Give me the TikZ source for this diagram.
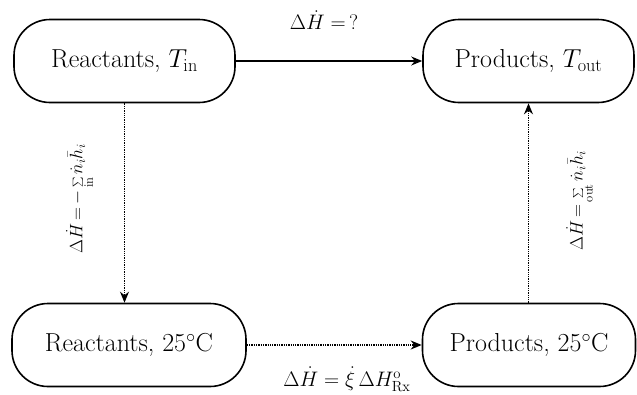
\RequirePackage{fix-cm}
\documentclass[tikz,border=0pt]{standalone}
\usetikzlibrary{arrows.meta}
\newcommand{\tightmath}{\thickmuskip=3mu\relax\medmuskip=1mu\relax}
\begin{document}
\begin{tikzpicture}[x=1pt,y=-1pt,
  stage/.style={draw,line width=1.6pt,rounded corners=36pt,minimum height=83pt,inner sep=0pt,font=\fontsize{26}{30}\selectfont},
  solidarr/.style={line width=1.3pt,-{Stealth[length=11pt,width=9pt]}},
  dotarr/.style={line width=1.3pt,densely dotted,-{Stealth[length=11pt,width=9pt]}},
  lbl/.style={font=\fontsize{21}{25}\selectfont},
  vlbl/.style={font=\fontsize{18}{21}\selectfont,rotate=90}]
\useasboundingbox (0,0) rectangle (637,394);
\node[stage,minimum width=221pt] (rin) at (124.5,61) {Reactants, $T_{\rm in}$};
\node[stage,minimum width=211pt] (pout) at (528.5,61) {Products, $T_{\rm out}$};
\node[stage,minimum width=234pt] (r25) at (129,345) {Reactants, 25$^\circ$C};
\node[stage,minimum width=213pt] (p25) at (529,345) {Products, 25$^\circ$C};
\draw[solidarr] (rin) -- (pout);
\draw[dotarr] (rin.south) -- (r25.north -| rin.south);
\draw[dotarr] (p25.north -| pout.south) -- (pout.south);
\draw[dotarr] (r25) -- (p25);
\node[lbl] (l1) at (324,20) {$\Delta\dot H = \,?$};
\node[vlbl] (l2) at (80,199) {$\tightmath\Delta\dot H = -\sum\limits_{\rm in}\dot n_i\bar h_i$};
\node[vlbl] (l3) at (580,201) {$\tightmath\Delta\dot H = \sum\limits_{\rm out}\dot n_i\bar h_i$};
\node[lbl] (l4) at (347,379) {$\Delta\dot H = \dot\xi\,\Delta H^{\rm o}_{\rm Rx}$};
\end{tikzpicture}
\end{document}
